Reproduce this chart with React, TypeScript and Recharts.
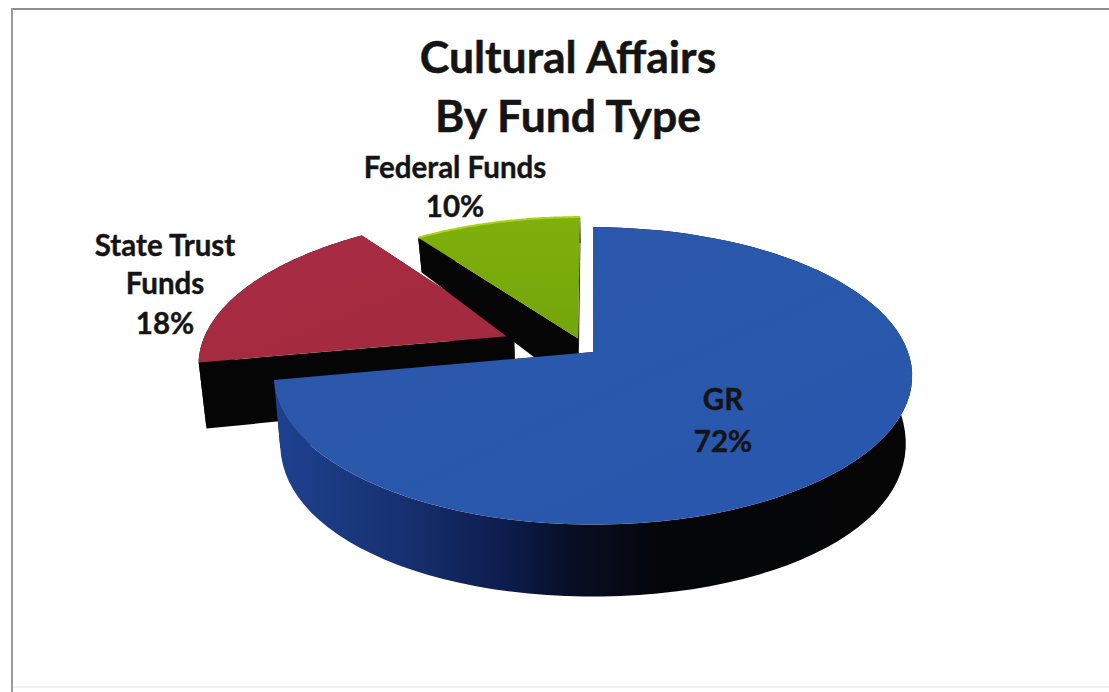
import { Pie, PieChart } from "recharts";

const categories = ["State Trust Funds", "Federal Funds", "GR"];
const shares = [18, 10, 72];
const titleLines = ["Cultural Affairs", "By Fund Type"];

const data = categories.map((name, i) => ({ name, value: shares[i] }));

// perspective of the tilted disc
const TILT = 0.46;
const PERSPECTIVE = 0.161;
const BOTTOM_SHRINK = 0.98;

const FONT = "Lato, 'Open Sans', sans-serif";

type SliceLook = {
  top: string;
  side: string;
  wall: string;
  rim?: string;
  offset: [number, number];
  depthCap: number;
  labelX: number;
  labelY: number[];
  labelLines: string[];
};

const LOOKS: Record<string, SliceLook> = {
  "State Trust Funds": {
    top: "url(#redTop)",
    side: "#050505",
    wall: "#050505",
    offset: [-0.255, -0.115],
    depthCap: 80,
    labelX: 165,
    labelY: [256, 294, 334],
    labelLines: ["State Trust", "Funds"],
  },
  "Federal Funds": {
    top: "url(#greenTop)",
    side: "#050505",
    wall: "#050505",
    rim: "#a9d416",
    offset: [-0.048, -0.095],
    depthCap: 52,
    labelX: 455,
    labelY: [178, 217],
    labelLines: ["Federal Funds"],
  },
  GR: {
    top: "url(#blueTop)",
    side: "#0a1230",
    wall: "url(#blueWall)",
    offset: [0, 0],
    depthCap: 80,
    labelX: 723,
    labelY: [410, 452],
    labelLines: ["GR"],
  },
};

// wall height grows toward the viewer
const depthAt = (v: number) => 64.6 + 20.8 * v - 13.4 * v * v;

function SliceShape(props: any) {
  const { cx, cy, outerRadius, startAngle, endAngle, payload } = props;
  const look = LOOKS[payload.name];
  const [ox, oy] = look.offset;

  const project = (u: number, v: number) => {
    const s = 1 / (1 - PERSPECTIVE * v);
    return [cx + outerRadius * u * s, cy + outerRadius * TILT * v * s];
  };
  const lower = (u: number, v: number) => {
    const [x, y] = project(u, v);
    return [cx + (x - cx) * BOTTOM_SHRINK, y + Math.min(depthAt(v), look.depthCap)];
  };
  const toPath = (pts: number[][]) =>
    "M" + pts.map((p) => `${p[0].toFixed(1)},${p[1].toFixed(1)}`).join("L") + "Z";

  const rimUV: number[][] = [];
  const steps = 90;
  for (let i = 0; i <= steps; i++) {
    const a = ((startAngle + ((endAngle - startAngle) * i) / steps) * Math.PI) / 180;
    rimUV.push([Math.cos(a) + ox, -Math.sin(a) + oy]);
  }
  const hub: [number, number] = [ox, oy];
  const first = rimUV[0];
  const last = rimUV[rimUV.length - 1];

  const topRim = rimUV.map(([u, v]) => project(u, v));
  const lowRim = rimUV.map(([u, v]) => lower(u, v));
  const quad = (a: number[], b: number[]) =>
    toPath([project(a[0], a[1]), project(b[0], b[1]), lower(b[0], b[1]), lower(a[0], a[1])]);

  return (
    <g>
      <path d={quad(hub, first)} fill={look.side} />
      <path d={quad(hub, last)} fill={look.side} />
      <path d={toPath([...topRim, ...lowRim.slice().reverse()])} fill={look.wall} />
      <path d={toPath([project(hub[0], hub[1]), ...topRim])} fill={look.top} />
      {look.rim && (
        <path
          d={"M" + topRim.map((p) => `${p[0].toFixed(1)},${p[1].toFixed(1)}`).join("L")}
          fill="none"
          stroke={look.rim}
          strokeWidth={2}
        />
      )}
    </g>
  );
}

function SliceLabel(props: any) {
  const { name, value, payload } = props;
  const look = LOOKS[payload?.name ?? name];
  const lines = [...look.labelLines, `${value}%`];
  return (
    <text
      textAnchor="middle"
      fontFamily={FONT}
      fontWeight={700}
      fontSize={29.5}
      fill="#141414"
      stroke="#141414"
      strokeWidth={0.4}
    >
      {lines.map((line, i) => (
        <tspan key={line} x={look.labelX} y={look.labelY[i]}>
          {line}
        </tspan>
      ))}
    </text>
  );
}

export default function App() {
  return (
    <div style={{ position: "absolute", left: 0, top: 0, width: 1109, height: 692, background: "#fff" }}>
      <div
        style={{
          position: "absolute",
          left: 11,
          top: 8,
          width: 1098,
          height: 684,
          boxSizing: "border-box",
          borderTop: "2px solid #8e8e8e",
          borderLeft: "2px solid #9a9a9a",
        }}
      />
      <div style={{ position: "absolute", left: 13, top: 686, width: 1096, height: 2, background: "#f1f1f1" }} />
      <PieChart
        width={1109}
        height={692}
        margin={{ top: 0, right: 0, bottom: 0, left: 0 }}
        style={{ position: "absolute", left: 0, top: 0 }}
      >
        <defs>
          <linearGradient id="blueTop" x1="0" y1="0" x2="1" y2="1">
            <stop offset="0" stopColor="#2c58a8" />
            <stop offset="1" stopColor="#2757ae" />
          </linearGradient>
          <linearGradient id="redTop" x1="0" y1="0" x2="1" y2="1">
            <stop offset="0" stopColor="#a82b43" />
            <stop offset="1" stopColor="#a32a3e" />
          </linearGradient>
          <linearGradient id="greenTop" x1="0" y1="0" x2="0" y2="1">
            <stop offset="0" stopColor="#7fb00c" />
            <stop offset="1" stopColor="#74a50a" />
          </linearGradient>
          <linearGradient id="blueWall" gradientUnits="userSpaceOnUse" x1="280" y1="0" x2="910" y2="0">
            <stop offset="0" stopColor="#1e418f" />
            <stop offset="0.2" stopColor="#16306f" />
            <stop offset="0.36" stopColor="#0d1c4c" />
            <stop offset="0.46" stopColor="#080e26" />
            <stop offset="0.6" stopColor="#05060a" />
            <stop offset="1" stopColor="#050505" />
          </linearGradient>
        </defs>
        <text
          textAnchor="middle"
          fontFamily={FONT}
          fontWeight={700}
          fontSize={44.5}
          fill="#141414"
          stroke="#141414"
          strokeWidth={0.5}
        >
          <tspan x={568} y={73}>{titleLines[0]}</tspan>
          <tspan x={568} y={132}>{titleLines[1]}</tspan>
        </text>
        <Pie
          data={data}
          dataKey="value"
          nameKey="name"
          cx={593}
          cy={352}
          innerRadius={0}
          outerRadius={315}
          startAngle={-169.2}
          endAngle={-529.2}
          isAnimationActive={false}
          stroke="none"
          shape={SliceShape}
          inactiveShape={SliceShape}
          label={SliceLabel}
          labelLine={false}
        />
      </PieChart>
    </div>
  );
}
